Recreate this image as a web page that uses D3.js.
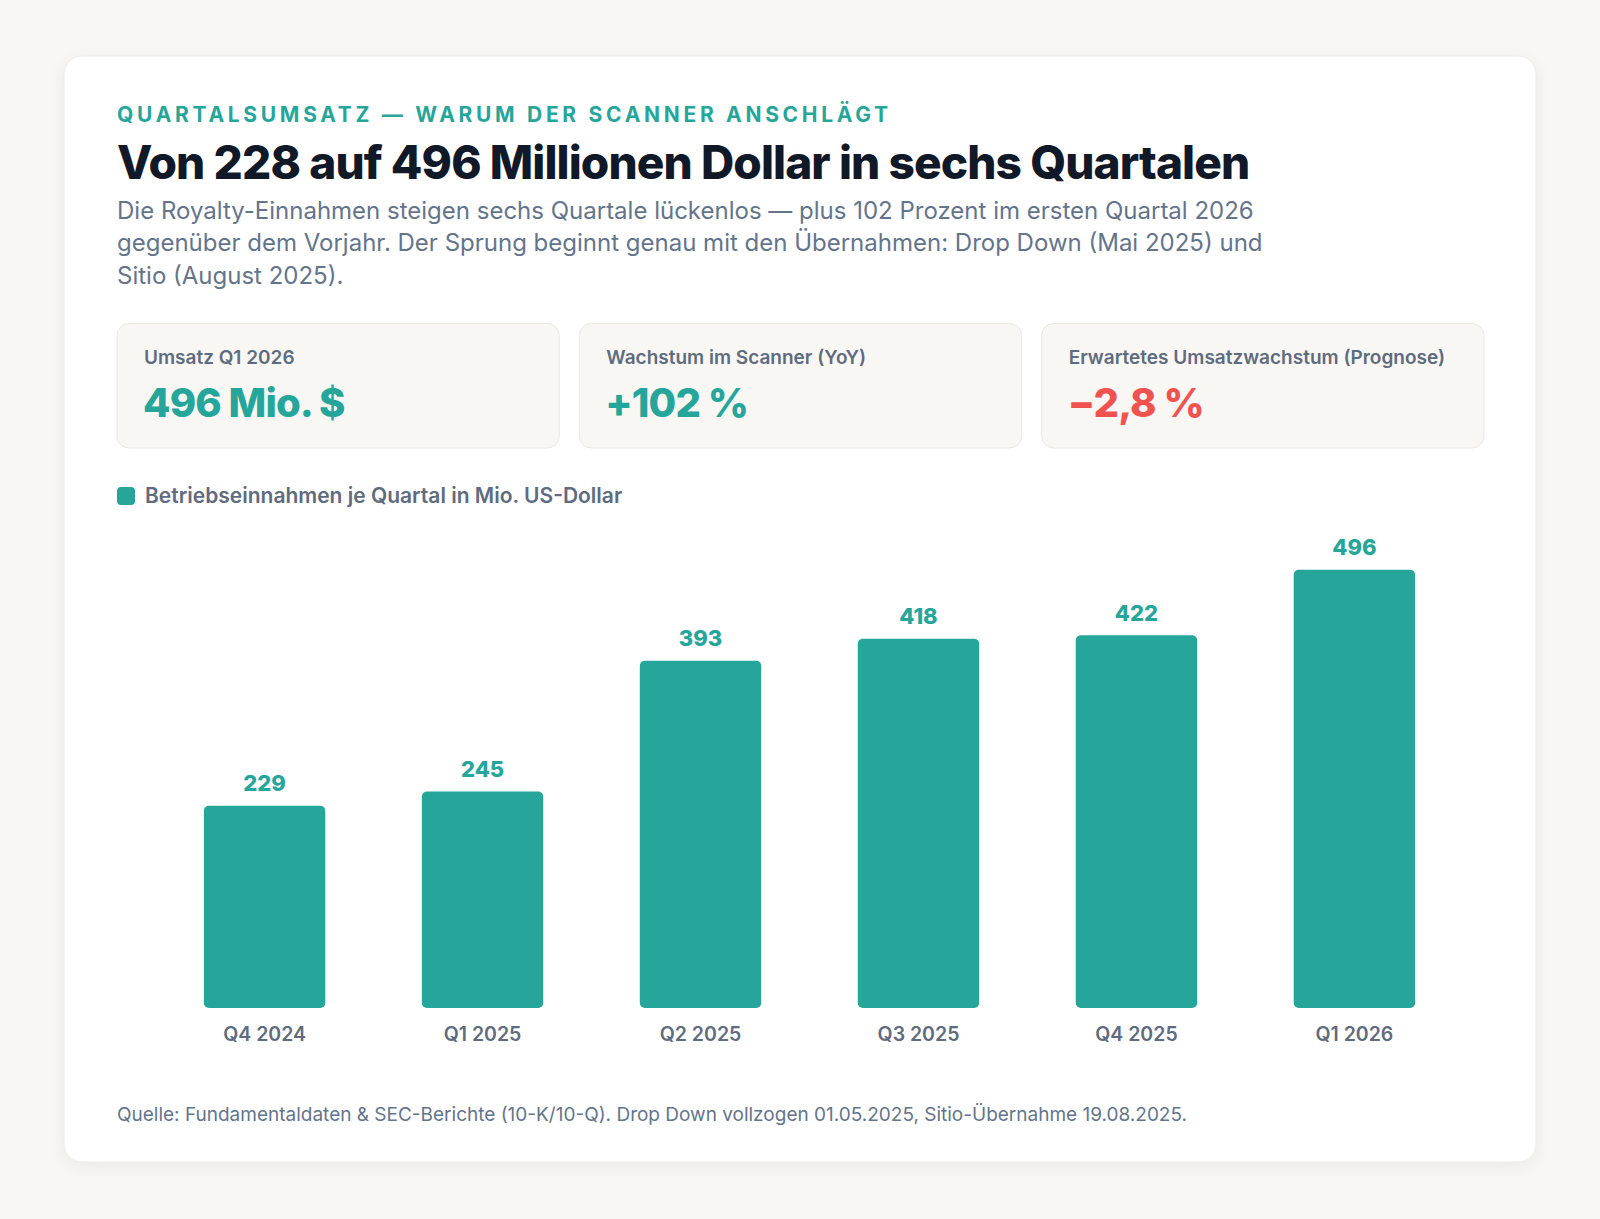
<!DOCTYPE html>
<html>
<head>
<meta charset="utf-8">
<script src="https://cdn.jsdelivr.net/npm/d3@7"></script>
<style>
  html, body { margin: 0; padding: 0; background: #f8f7f4; }
  svg { display: block; font-family: Inter, "Noto Sans", sans-serif; }
</style>
</head>
<body>
<div id="chart"></div>
<script>
// ---------- data ----------
const categories = ["Q4 2024", "Q1 2025", "Q2 2025", "Q3 2025", "Q4 2025", "Q1 2026"];
const revenue = [229, 245, 393, 418, 422, 496];

const kpiLabels = ["Umsatz Q1 2026", "Wachstum im Scanner (YoY)", "Erwartetes Umsatzwachstum (Prognose)"];
const kpiValues = ["496 Mio. $", "+102 %", "\u22122,8 %"];
const kpiTone = ["pos", "pos", "neg"];

const eyebrow = "QUARTALSUMSATZ \u2014 WARUM DER SCANNER ANSCHLÄGT";
const title = "Von 228 auf 496 Millionen Dollar in sechs Quartalen";
const subtitleLines = [
  "Die Royalty-Einnahmen steigen sechs Quartale lückenlos \u2014 plus 102 Prozent im ersten Quartal 2026",
  "gegenüber dem Vorjahr. Der Sprung beginnt genau mit den Übernahmen: Drop Down (Mai 2025) und",
  "Sitio (August 2025)."
];
const legendLabel = "Betriebseinnahmen je Quartal in Mio. US-Dollar";
const footnote = "Quelle: Fundamentaldaten & SEC-Berichte (10-K/10-Q). Drop Down vollzogen 01.05.2025, Sitio-Übernahme 19.08.2025.";

// ---------- styles ----------
const TEAL = "#26a69a", RED = "#ef5350", INK = "#111827", MUTED = "#64748b", LABEL = "#5f6b7e";
const W = 1600, H = 1219;
const cardX = 64, cardY = 56, cardW = 1472, cardH = 1106;
const left = 117, right = 1484;

const svg = d3.select("#chart").append("svg").attr("width", W).attr("height", H);

const defs = svg.append("defs");
const f = defs.append("filter").attr("id", "shadow").attr("x", "-5%").attr("y", "-5%").attr("width", "110%").attr("height", "112%");
f.append("feDropShadow").attr("dx", 0).attr("dy", 4).attr("stdDeviation", 8).attr("flood-color", "#1f2937").attr("flood-opacity", 0.06);

svg.append("rect").attr("width", W).attr("height", H).attr("fill", "#f8f7f4");
svg.append("rect")
  .attr("x", cardX).attr("y", cardY).attr("width", cardW).attr("height", cardH)
  .attr("rx", 18).attr("fill", "#ffffff").attr("stroke", "#eceae5").attr("stroke-width", 1)
  .attr("filter", "url(#shadow)");

// ---------- header ----------
svg.append("text").attr("x", left).attr("y", 121.5)
  .attr("fill", TEAL).attr("font-size", 21).attr("font-weight", 700)
  .attr("letter-spacing", "3.7px").text(eyebrow);

svg.append("text").attr("x", left).attr("y", 179)
  .attr("fill", INK).attr("font-size", 46).attr("font-weight", 800)
  .attr("letter-spacing", "-0.9px").text(title);

svg.append("g").selectAll("text").data(subtitleLines).join("text")
  .attr("x", left).attr("y", (d, i) => 218.5 + i * 32.6)
  .attr("fill", MUTED).attr("font-size", 24).attr("font-weight", 400)
  .text(d => d);

// ---------- KPI cards ----------
const kpiGap = 20;
const kpiW = (right - left - 2 * kpiGap) / 3;
const kpiY = 323.5, kpiH = 124.5;
const kpi = svg.append("g").selectAll("g").data(kpiLabels).join("g")
  .attr("transform", (d, i) => `translate(${left + i * (kpiW + kpiGap)},${kpiY})`);
kpi.append("rect").attr("width", kpiW).attr("height", kpiH).attr("rx", 12)
  .attr("fill", "#f8f7f4").attr("stroke", "#ebe8e2").attr("stroke-width", 1);
kpi.append("text").attr("x", 27).attr("y", 40.5)
  .attr("fill", LABEL).attr("font-size", 19).attr("font-weight", 600)
  .text(d => d);
kpi.append("text").attr("x", 26).attr("y", 93)
  .attr("fill", (d, i) => kpiTone[i] === "neg" ? RED : TEAL)
  .attr("font-size", 40).attr("font-weight", 800).attr("letter-spacing", "-0.9px")
  .text((d, i) => kpiValues[i]);

// ---------- legend ----------
const lg = svg.append("g").attr("transform", `translate(${left},487)`);
lg.append("rect").attr("width", 18).attr("height", 18).attr("rx", 4).attr("fill", TEAL);
lg.append("text").attr("x", 28).attr("y", 16)
  .attr("fill", LABEL).attr("font-size", 21).attr("font-weight", 600)
  .text(legendLabel);

// ---------- chart ----------
const x = d3.scaleBand().domain(categories).range([135, right]).paddingInner(0.443).paddingOuter(0.316);
const y = d3.scaleLinear().domain([0, d3.max(revenue) * 1.1]).range([1008, 526]);

const data = categories.map((c, i) => ({ c, v: revenue[i] }));

svg.append("g").selectAll("rect").data(data).join("rect")
  .attr("x", d => x(d.c)).attr("y", d => y(d.v))
  .attr("width", x.bandwidth()).attr("height", d => y(0) - y(d.v))
  .attr("rx", 5).attr("fill", TEAL);

svg.append("g").selectAll("text").data(data).join("text")
  .attr("x", d => x(d.c) + x.bandwidth() / 2).attr("y", d => y(d.v) - 14.5)
  .attr("text-anchor", "middle").attr("fill", TEAL)
  .attr("font-size", 22).attr("font-weight", 800)
  .text(d => d.v);

const xAxis = svg.append("g").attr("transform", `translate(0,${y(0)})`)
  .call(d3.axisBottom(x).tickSize(0).tickPadding(0));
xAxis.select(".domain").remove();
xAxis.selectAll("text")
  .attr("dy", null).attr("y", 33)
  .attr("fill", LABEL).attr("font-size", 19.5).attr("font-weight", 600)
  .attr("font-family", "Inter, 'Noto Sans', sans-serif");

// ---------- footnote ----------
svg.append("text").attr("x", left).attr("y", 1120.5)
  .attr("fill", MUTED).attr("font-size", 19).attr("font-weight", 400)
  .text(footnote);
</script>
</body>
</html>
